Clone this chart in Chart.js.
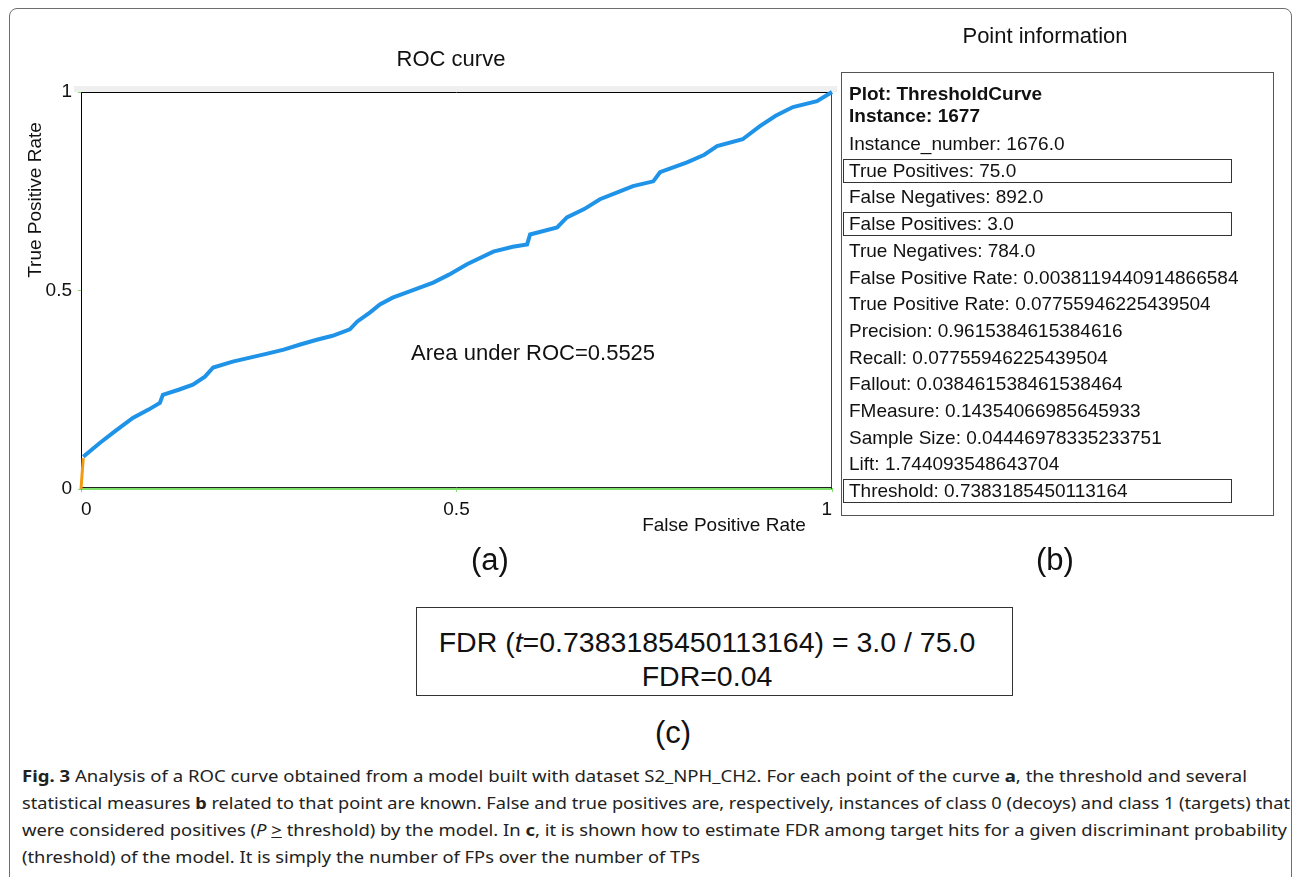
<!DOCTYPE html>
<html>
<head>
<meta charset="utf-8">
<script src="https://cdn.jsdelivr.net/npm/chart.js@4/dist/chart.umd.min.js"></script>
<style>
  body { margin: 0; width: 1293px; height: 877px; overflow: hidden; position: relative; background: #fff;
         font-family: "Liberation Sans", Arial, sans-serif; color: #111; }
  .frame { position: absolute; left: 9px; top: 8px; width: 1281px; height: 900px; border: 1px solid #6e6e6e; border-radius: 8px; }
  #roc { position: absolute; left: 0; top: 0; }
  .t { position: absolute; white-space: nowrap; line-height: 1; }
  .panel { position: absolute; left: 841px; top: 72px; width: 431px; height: 442px; border: 1px solid #555; }
  .row { position: absolute; left: 7px; font-size: 19px; line-height: 22px; white-space: nowrap; color: #111; }
  .row.b { font-weight: bold; }
  .hl { position: absolute; left: 1px; width: 387px; height: 22px; border: 1px solid #333; }
  .fdr { position: absolute; left: 416px; top: 607px; width: 595px; height: 87px; border: 1px solid #333; }
  .cap { position: absolute; left: 22px; font-family: "Noto Sans", sans-serif; font-size: 16px; line-height: 20px;
         white-space: nowrap; color: #222; transform-origin: 0 50%; }
</style>
</head>
<body>
<div class="frame"></div>
<canvas id="roc" width="845" height="545"></canvas>

<div class="t" style="left:0;width:2090px;top:25px;font-size:22px;text-align:center;">Point information</div>

<div class="panel" id="panel"></div>

<div class="t" style="left:0;width:980px;top:544px;font-size:31px;text-align:center;">(a)</div>
<div class="t" style="left:0;width:2110px;top:544px;font-size:31px;text-align:center;">(b)</div>

<div class="fdr"></div>
<div class="t" style="left:0;width:1414px;top:628px;font-size:28.5px;text-align:center;">FDR (<i>t</i>=0.7383185450113164) = 3.0 / 75.0</div>
<div class="t" style="left:0;width:1414px;top:662px;font-size:28.5px;text-align:center;">FDR=0.04</div>
<div class="t" style="left:0;width:1346px;top:717px;font-size:31px;text-align:center;">(c)</div>

<div class="cap" data-w="1225" style="top:766px;"><b>Fig. 3</b> Analysis of a ROC curve obtained from a model built with dataset S2_NPH_CH2. For each point of the curve <b>a</b>, the threshold and several</div>
<div class="cap" data-w="1268" style="top:793px;">statistical measures <b>b</b> related to that point are known. False and true positives are, respectively, instances of class 0 (decoys) and class 1 (targets) that</div>
<div class="cap" data-w="1265" style="top:820px;">were considered positives (<i>P</i> <u>&gt;</u> threshold) by the model. In <b>c</b>, it is shown how to estimate FDR among target hits for a given discriminant probability</div>
<div class="cap" data-w="678" style="top:847px;">(threshold) of the model. It is simply the number of FPs over the number of TPs</div>

<script>
// ROC curve (false positive rate / true positive rate)
const fpr = [0.003, 0.025, 0.045, 0.069, 0.090, 0.105, 0.109, 0.130, 0.149, 0.165, 0.176, 0.202, 0.225, 0.248, 0.270,
  0.292, 0.314, 0.335, 0.358, 0.368, 0.385, 0.398, 0.415, 0.434, 0.469, 0.490, 0.514, 0.549, 0.575, 0.594, 0.598,
  0.634, 0.647, 0.670, 0.691, 0.715, 0.735, 0.762, 0.771, 0.807, 0.830, 0.847, 0.881, 0.904, 0.925, 0.948, 0.980, 1.0];
const tpr = [0.081, 0.116, 0.145, 0.179, 0.200, 0.217, 0.237, 0.250, 0.263, 0.283, 0.306, 0.321, 0.331, 0.341, 0.351,
  0.364, 0.376, 0.386, 0.402, 0.422, 0.445, 0.465, 0.482, 0.495, 0.520, 0.540, 0.566, 0.598, 0.610, 0.616, 0.641,
  0.659, 0.684, 0.705, 0.730, 0.748, 0.763, 0.775, 0.798, 0.823, 0.842, 0.864, 0.881, 0.914, 0.940, 0.962, 0.977, 1.0];
// first (orange) segment near the origin
const startFpr = [0, 0.003];
const startTpr = [0, 0.078];
const axisTicks = [0, 0.5, 1];

// point information panel
const infoBold = ['Plot: ThresholdCurve', 'Instance: 1677'];
const infoRows = [
  'Instance_number: 1676.0',
  'True Positives: 75.0',
  'False Negatives: 892.0',
  'False Positives: 3.0',
  'True Negatives: 784.0',
  'False Positive Rate: 0.0038119440914866584',
  'True Positive Rate: 0.07755946225439504',
  'Precision: 0.9615384615384616',
  'Recall: 0.07755946225439504',
  'Fallout: 0.038461538461538464',
  'FMeasure: 0.14354066985645933',
  'Sample Size: 0.04446978335233751',
  'Lift: 1.744093548643704',
  'Threshold: 0.7383185450113164'
];
const boxed = ['True Positives: 75.0', 'False Positives: 3.0', 'Threshold: 0.7383185450113164'];

// build panel
const panel = document.getElementById('panel');
const boldY = [21, 43];
infoBold.forEach((s, i) => {
  let d = document.createElement('div');
  d.className = 'row b';
  d.style.top = (boldY[i] - 11) + 'px';
  d.textContent = s;
  panel.appendChild(d);
});
infoRows.forEach((s, i) => {
  let cy = 71 + i * 26.7;
  if (boxed.includes(s)) {
    let b = document.createElement('div');
    b.className = 'hl';
    b.style.top = (cy - 12) + 'px';
    panel.appendChild(b);
  }
  let d = document.createElement('div');
  d.className = 'row';
  d.style.top = (cy - 11) + 'px';
  d.textContent = s;
  panel.appendChild(d);
});

// squeeze caption lines to the width they have in the figure
document.querySelectorAll('.cap').forEach(el => {
  let w = el.getBoundingClientRect().width;
  let target = +el.dataset.w;
  el.style.transform = 'scaleX(' + (target / w) + ')';
});

const fontFam = '"Liberation Sans", Arial, sans-serif';

const decor = {
  id: 'decor',
  beforeDatasetsDraw(chart) {
    const { ctx, chartArea: a } = chart;
    ctx.save();
    // light band on top of the plot
    ctx.fillStyle = '#efefef';
    ctx.fillRect(a.left - 7, a.top - 6, a.right - a.left + 12, 6);
    // frame
    ctx.strokeStyle = '#000';
    ctx.lineWidth = 1;
    ctx.beginPath();
    ctx.moveTo(a.left + 0.5, a.bottom - 0.5);
    ctx.lineTo(a.left + 0.5, a.top + 0.5);
    ctx.lineTo(a.right - 0.5, a.top + 0.5);
    ctx.stroke();
    ctx.strokeStyle = '#444';
    ctx.beginPath();
    ctx.moveTo(a.right - 0.5, a.top);
    ctx.lineTo(a.right - 0.5, a.bottom);
    ctx.stroke();
    ctx.strokeStyle = '#222';
    ctx.beginPath();
    ctx.moveTo(a.left, a.bottom - 1.5);
    ctx.lineTo(a.right, a.bottom - 1.5);
    ctx.stroke();
    ctx.restore();
  },
  afterDraw(chart) {
    const { ctx, scales } = chart;
    ctx.save();
    ctx.fillStyle = '#111';
    ctx.textBaseline = 'middle';
    ctx.textAlign = 'center';
    ctx.font = '22px ' + fontFam;
    ctx.fillText('ROC curve', 451, 60);
    ctx.fillText('Area under ROC=0.5525', scales.x.getPixelForValue(0.602), scales.y.getPixelForValue(0.341));
    ctx.font = '19px ' + fontFam;
    ctx.fillText('False Positive Rate', 724, 526);
    ctx.translate(36, 200);
    ctx.rotate(-Math.PI / 2);
    ctx.fillText('True Positive Rate', 0, 0);
    ctx.restore();
  }
};

const tickText = v => (v === 0.5 ? '0.5' : String(Math.round(v)));

new Chart(document.getElementById('roc'), {
  type: 'line',
  data: {
    datasets: [
      {
        data: fpr.map((x, i) => ({ x: x, y: tpr[i] })),
        borderColor: '#1f93e8',
        borderWidth: 4,
        pointRadius: 0,
        tension: 0,
        clip: 4
      },
      {
        data: startFpr.map((x, i) => ({ x: x, y: startTpr[i] })),
        borderColor: '#f39a12',
        borderWidth: 3,
        pointRadius: 0,
        clip: 4
      }
    ]
  },
  options: {
    responsive: false,
    devicePixelRatio: 1,
    animation: false,
    layout: { padding: { left: 0, right: 13, top: 92, bottom: 0 } },
    plugins: { legend: { display: false }, tooltip: { enabled: false }, title: { display: false } },
    scales: {
      x: {
        type: 'linear', min: 0, max: 1,
        afterFit: s => { s.height = 56; },
        afterBuildTicks: s => { s.ticks = axisTicks.map(v => ({ value: v })); },
        border: { color: '#7ee06a', width: 2 },
        grid: { drawOnChartArea: false, color: '#7ee06a', tickLength: 3 },
        ticks: { color: '#111', padding: 6, align: 'inner', callback: tickText,
                 font: { size: 19, family: fontFam }, maxRotation: 0 }
      },
      y: {
        min: 0, max: 1,
        afterFit: s => { s.width = 81; },
        afterBuildTicks: s => { s.ticks = axisTicks.map(v => ({ value: v })); },
        border: { color: '#3cb83c', width: 1 },
        grid: { drawOnChartArea: false, color: '#7ee06a', tickLength: 3 },
        ticks: { color: '#111', padding: 6, callback: tickText, font: { size: 19, family: fontFam } }
      }
    }
  },
  plugins: [decor]
});
</script>
</body>
</html>
